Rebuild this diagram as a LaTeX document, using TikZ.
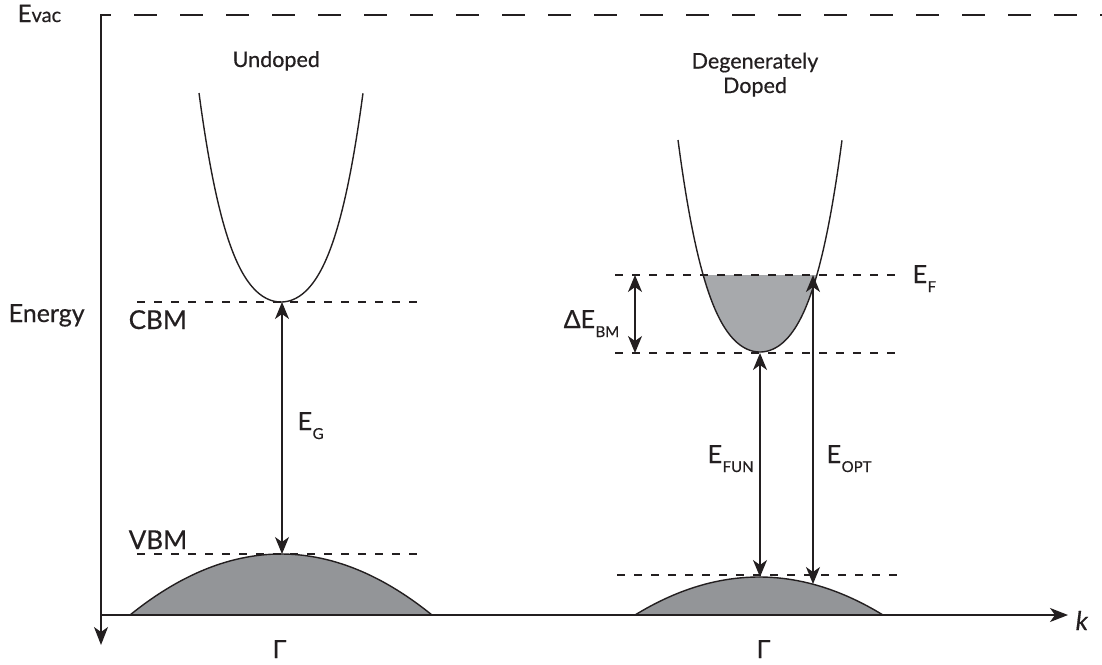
\documentclass[tikz,border=0pt]{standalone}
\usepackage{fontspec}
\setmainfont{Lato}[FakeBold=0.5]
\usetikzlibrary{arrows.meta}
\definecolor{ink}{HTML}{231F20}
\definecolor{vbfill}{HTML}{939598}
\definecolor{cbfill}{HTML}{A7A9AC}
\newcommand\Esub[1]{E\kern0.5pt\raisebox{-9pt}{\fontsize{15}{16}\selectfont #1}}
\newcommand\fsz[1]{\fontsize{#1}{#1}\selectfont}
\begin{document}
\begin{tikzpicture}[x=1pt,y=-1pt,line width=1.4pt,draw=ink,text=ink,
  dbl/.style={{Stealth[length=17pt,width=14pt,inset=5pt]}-{Stealth[length=17pt,width=14pt,inset=5pt]}},
  level/.style={dash pattern=on 8pt off 9pt},
  axisarrow/.style={-{Stealth[length=18pt,width=14pt,inset=5pt]}},
  lbl/.style={anchor=base west,inner sep=0pt,text=ink}]
\useasboundingbox (0,0) rectangle (1102,664);

% vacuum level
\coordinate (vacL) at (100,15);
\coordinate (vacR) at (1102,15);
\draw[dash pattern=on 23pt off 23pt,dash phase=12pt] (vacL) -- (vacR);

% valence band domes
\fill[vbfill] plot[domain=-1:1,samples=61] ({281+151*\x},{554+61*\x*\x}) -- cycle;
\draw plot[domain=-1:1,samples=61] ({281+151*\x},{554+61*\x*\x});
\fill[vbfill] plot[domain=-1:1,samples=61] ({759+124*\x},{577+38*\x*\x}) -- cycle;
\draw plot[domain=-1:1,samples=61] ({759+124*\x},{577+38*\x*\x});

% axes
\coordinate (origin) at (101,615);
\coordinate (ytop) at (101,14);
\coordinate (ybot) at (101,645);
\coordinate (xend) at (1068,615);
\draw[axisarrow,line width=1.5pt] (ytop) -- (ybot);
\draw[axisarrow,line width=1.5pt] (origin) -- (xend);

% undoped conduction band
\draw plot[domain=-1:1,samples=81,smooth] ({281+82*\x},{302-209*(0.53*\x*\x+0.47*\x*\x*\x*\x)});

% doped conduction band with filled region
\begin{scope}
\clip (600,275) rectangle (900,360);
\fill[cbfill] plot[domain=-1:1,samples=81,smooth] ({760+82*\x},{352-212*(0.53*\x*\x+0.47*\x*\x*\x*\x)}) -- cycle;
\end{scope}
\draw plot[domain=-1:1,samples=81,smooth] ({760+82*\x},{352-212*(0.53*\x*\x+0.47*\x*\x*\x*\x)});

% level lines
\coordinate (cbmL) at (137,302); \coordinate (cbmR) at (425,302);
\coordinate (vbmL) at (137,554); \coordinate (vbmR) at (425,554);
\coordinate (efL) at (615,275); \coordinate (efR) at (895,275);
\coordinate (cbdL) at (615,353); \coordinate (cbdR) at (895,353);
\coordinate (vbdL) at (617,575); \coordinate (vbdR) at (905,575);
\draw[level] (cbmL) -- (cbmR);
\draw[level] (vbmL) -- (vbmR);
\draw[level] (efL) -- (efR);
\draw[level] (cbdL) -- (cbdR);
\draw[level] (vbdL) -- (vbdR);

% arrows
\coordinate (cbmU) at (282,302); \coordinate (vbmU) at (282,554);
\coordinate (bmT) at (635,275); \coordinate (bmB) at (635,353);
\coordinate (funT) at (760,353); \coordinate (funB) at (760,577);
\coordinate (optT) at (813,275); \coordinate (optB) at (813,584);
\draw[dbl] (cbmU) -- (vbmU);
\draw[dbl] (bmT) -- (bmB);
\draw[dbl] (funT) -- (funB);
\draw[dbl] (optT) -- (optB);

% labels
\node[lbl] (evac) at (17,22) {\fsz{24}E\fsz{20}vac};
\node[lbl] (energy) at (8,322) {\fsz{25}Energy};
\node[lbl] (cbm) at (128,329) {\fsz{26}CBM};
\node[lbl] (vbm) at (128,549) {\fsz{26}VBM};
\node[lbl] (undoped) at (232,67) {\fsz{21.5}Undoped};
\node[inner sep=0pt,align=center,text=ink,font=\fsz{21.5},anchor=base] (doped) at (755,93) {Degenerately\\[3pt]Doped};
\node[lbl] (eg) at (297,430) {\fsz{25}\Esub{G}};
\node[lbl] (efun) at (707,463) {\fsz{25}\Esub{FUN}};
\node[lbl] (eopt) at (826,463) {\fsz{25}\Esub{OPT}};
\node[lbl] (ebm) at (563,328) {\fsz{25}Δ\Esub{BM}};
\node[lbl] (ef) at (912,283) {\fsz{25}\Esub{F}};
\node[lbl] (k) at (1075,630) {\fsz{26}\itshape k};
\node[lbl] (g1) at (272,658) {\fsz{25}Γ};
\node[lbl] (g2) at (756,658) {\fsz{25}Γ};
\end{tikzpicture}
\end{document}
